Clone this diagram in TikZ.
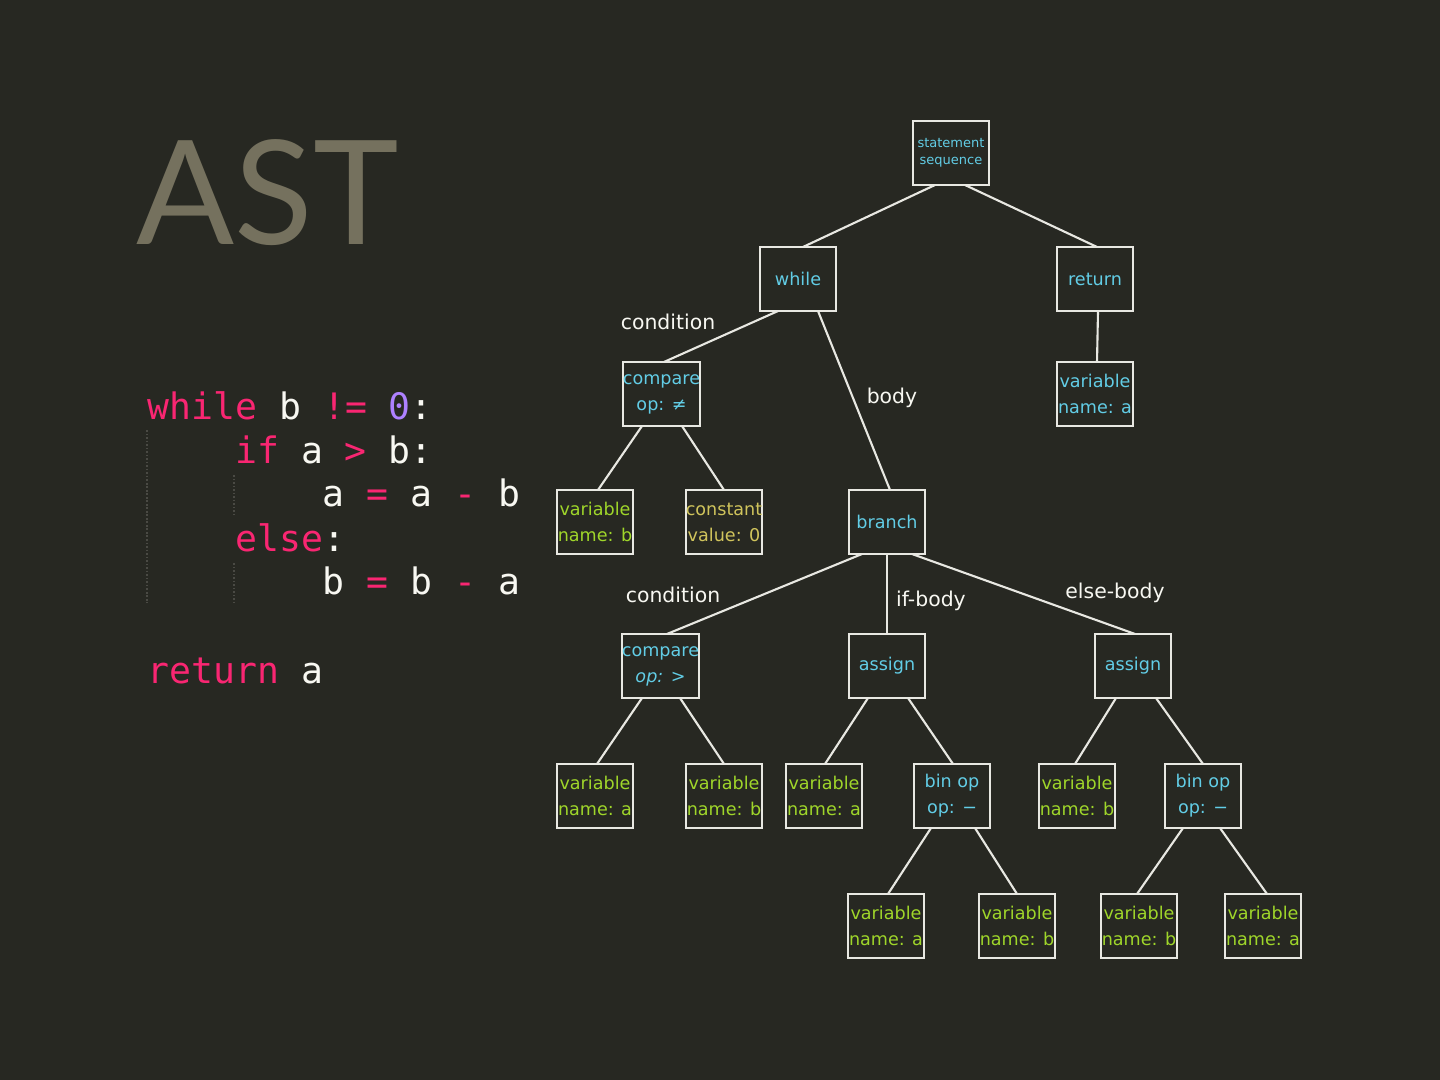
\documentclass[tikz,border=0pt]{standalone}
\usepackage{fontspec}
\setmainfont{DejaVu Sans}
\setmonofont{DejaVu Sans Mono}
\newfontfamily\latofont{Lato}
\usetikzlibrary{calc}
\definecolor{bgc}{HTML}{272822}
\definecolor{titlec}{HTML}{75715E}
\definecolor{pinkc}{HTML}{F92672}
\definecolor{purplec}{HTML}{AE81FF}
\definecolor{whitec}{HTML}{F8F8F2}
\definecolor{cyanc}{HTML}{62CDE6}
\definecolor{greenc}{HTML}{9FD62A}
\definecolor{yellowc}{HTML}{D0C45C}
\definecolor{boxc}{HTML}{E8E8E2}
\definecolor{guidec}{HTML}{4A4A44}
\newcommand{\kw}[1]{\textcolor{pinkc}{#1}}
\newcommand{\nm}[1]{\textcolor{purplec}{#1}}
\begin{document}
\begin{tikzpicture}[x=0.01cm,y=-0.01cm,
  box/.style={draw=boxc, line width=0.6pt, minimum width=0.76cm, minimum height=0.64cm,
    inner sep=0pt, outer sep=0pt, align=center, font=\fontsize{5}{7.4}\selectfont},
  cy/.style={box, text=cyanc},
  gr/.style={box, text=greenc},
  ye/.style={box, text=yellowc},
  edge/.style={draw=boxc, line width=0.6pt},
  lbl/.style={text=whitec, font=\fontsize{5.8}{7}\selectfont, inner sep=0pt},
  code/.style={anchor=base west, inner sep=0pt, text=whitec, font=\ttfamily\fontsize{10.36}{12}\selectfont},
  guide/.style={draw=guidec, line width=0.3pt, dash pattern=on 0.5pt off 0.5pt}
]
\fill[bgc] (0,0) rectangle (1440,1080);
\useasboundingbox (0,0) rectangle (1440,1080);

% title
\node[anchor=base west, inner sep=0pt, text=titlec, font=\latofont\fontsize{41.2}{44}\selectfont] (title) at (136,245) {AST};

% code
\node[code] (c1) at (147,420) {\kw{while} b \kw{!=} \nm{0}:};
\node[code] (c2) at (234.6,464) {\kw{if} a \kw{>} b:};
\node[code] (c3) at (322.2,507) {a \kw{=} a \kw{-} b};
\node[code] (c4) at (234.6,552) {\kw{else}:};
\node[code] (c5) at (322.2,595) {b \kw{=} b \kw{-} a};
\node[code] (c6) at (147,684) {\kw{return} a};
\draw[guide] (147,430) -- (147,603);
\draw[guide] (234,475) -- (234,516);
\draw[guide] (234,563) -- (234,603);

% tree nodes
\node[cy, font=\fontsize{3.7}{4.85}\selectfont] (ss) at (951,153) {statement\\sequence};
\node[cy] (wh) at (798,279) {while};
\node[cy] (ret) at (1095,279) {return};
\node[cy] (cmp1) at (661.5,394) {compare\\op: ≠};
\node[cy] (rv) at (1095,394) {variable\\name: a};
\node[gr] (vb1) at (595,522) {variable\\name: b};
\node[ye] (cst) at (724,522) {constant\\value: 0};
\node[cy] (br) at (887,522) {branch};
\node[cy] (cmp2) at (660.5,666) {compare\\\itshape op: >};
\node[cy] (as1) at (887,666) {assign};
\node[cy] (as2) at (1133,666) {assign};
\node[gr] (va2) at (595,796) {variable\\name: a};
\node[gr] (vb2) at (724,796) {variable\\name: b};
\node[gr] (va3) at (824,796) {variable\\name: a};
\node[cy] (bo1) at (952,796) {bin op\\op: −};
\node[gr] (vb3) at (1077,796) {variable\\name: b};
\node[cy] (bo2) at (1203,796) {bin op\\op: −};
\node[gr] (va4) at (886,926) {variable\\name: a};
\node[gr] (vb4) at (1017,926) {variable\\name: b};
\node[gr] (vb5) at (1139,926) {variable\\name: b};
\node[gr] (va5) at (1263,926) {variable\\name: a};

% edges
\draw[edge] ($(ss.south)+(-16,0)$) -- ($(wh.north)+(5,0)$);
\draw[edge] ($(ss.south)+(14,0)$) -- ($(ret.north)+(2,0)$);
\draw[edge] ($(wh.south)+(-20,0)$) -- ($(cmp1.north)+(2.5,0)$);
\draw[edge] ($(wh.south)+(20,0)$) -- ($(br.north)+(3,0)$);
\draw[edge] ($(ret.south)+(3,0)$) -- ($(rv.north)+(2,0)$);
\draw[edge] ($(cmp1.south)+(-19.5,0)$) -- ($(vb1.north)+(3,0)$);
\draw[edge] ($(cmp1.south)+(20.5,0)$) -- (cst.north);
\draw[edge] ($(br.south)+(-25,0)$) -- ($(cmp2.north)+(6.5,0)$);
\draw[edge] (br.south) -- (as1.north);
\draw[edge] ($(br.south)+(25,0)$) -- ($(as2.north)+(2,0)$);
\draw[edge] ($(cmp2.south)+(-18.5,0)$) -- ($(va2.north)+(2,0)$);
\draw[edge] ($(cmp2.south)+(19.5,0)$) -- (vb2.north);
\draw[edge] ($(as1.south)+(-19,0)$) -- ($(va3.north)+(1,0)$);
\draw[edge] ($(as1.south)+(21,0)$) -- ($(bo1.north)+(1,0)$);
\draw[edge] ($(bo1.south)+(-21,0)$) -- ($(va4.north)+(2,0)$);
\draw[edge] ($(bo1.south)+(23,0)$) -- (vb4.north);
\draw[edge] ($(as2.south)+(-17,0)$) -- ($(vb3.north)+(-2,0)$);
\draw[edge] ($(as2.south)+(23,0)$) -- (bo2.north);
\draw[edge] ($(bo2.south)+(-20,0)$) -- ($(vb5.north)+(-2,0)$);
\draw[edge] ($(bo2.south)+(17,0)$) -- ($(va5.north)+(4,0)$);

% edge labels
\node[lbl] (l1) at (668,322) {condition};
\node[lbl] (l2) at (892,398) {body};
\node[lbl] (l3) at (673,595) {condition};
\node[lbl] (l4) at (931,601) {if-body};
\node[lbl] (l5) at (1115,593) {else-body};
\end{tikzpicture}
\end{document}
